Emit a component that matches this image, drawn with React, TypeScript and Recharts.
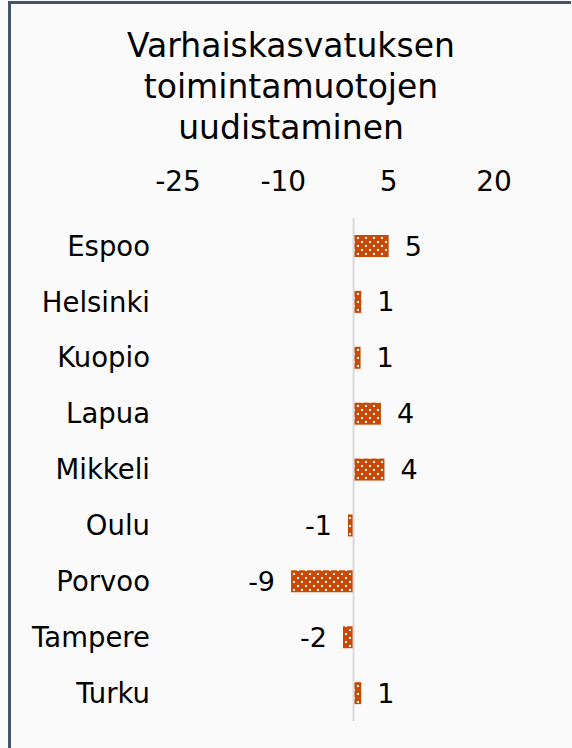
import { BarChart, Bar, XAxis, YAxis, ReferenceLine, LabelList } from "recharts";

const kunnat = [
  "Espoo",
  "Helsinki",
  "Kuopio",
  "Lapua",
  "Mikkeli",
  "Oulu",
  "Porvoo",
  "Tampere",
  "Turku",
];
const muutokset = [5.0, 1.1, 1.0, 3.9, 4.4, -0.8, -8.9, -1.5, 1.1];
const xTicks = [-25, -10, 5, 20];
const otsikko = ["Varhaiskasvatuksen", "toimintamuotojen", "uudistaminen"];

const data = kunnat.map((kunta, i) => ({ kunta, arvo: muutokset[i] }));

const FONT = "'DejaVu Sans', Verdana, sans-serif";
const ORANSSI = "#c94a06";

// Excel pyöristää puolikkaat poispäin nollasta
const pyorista = (v: number) => Math.sign(v) * Math.round(Math.abs(v));

export default function App() {
  return (
    <div
      style={{
        position: "absolute",
        left: 0,
        top: 0,
        width: 572,
        height: 748,
        background: "#fafafa",
        fontFamily: FONT,
        overflow: "hidden",
      }}
    >
      <svg width={0} height={0} style={{ position: "absolute" }}>
        <defs>
          <pattern id="pisteet" width={8} height={8} patternUnits="userSpaceOnUse">
            <rect width={8} height={8} fill={ORANSSI} />
            <rect x={1} y={1} width={2} height={2} fill="#ffffff" />
            <rect x={5} y={5} width={2} height={2} fill="#ffffff" />
          </pattern>
        </defs>
      </svg>

      <div
        style={{
          position: "absolute",
          left: 8,
          top: 1,
          width: 563,
          height: 747,
          borderTop: "3px solid #44546a",
          borderLeft: "3px solid #44546a",
          boxSizing: "border-box",
        }}
      />

      <div
        style={{
          position: "absolute",
          left: 8,
          top: 25,
          width: 566,
          textAlign: "center",
          fontSize: 33,
          lineHeight: "41px",
          color: "#000",
        }}
      >
        {otsikko.map((rivi) => (
          <div key={rivi}>{rivi}</div>
        ))}
      </div>

      <div style={{ position: "absolute", left: 0, top: 0 }}>
        <BarChart
          width={572}
          height={748}
          data={data}
          layout="vertical"
          margin={{ top: 188, right: 78, bottom: 27, left: 18 }}
          barSize={22}
        >
          <XAxis
            type="number"
            orientation="top"
            domain={[-25, 20]}
            ticks={xTicks}
            height={30}
            axisLine={false}
            tickLine={false}
            tickSize={0}
            tickMargin={27}
            tick={{ fill: "#000", fontSize: 28, fontFamily: FONT }}
          />
          <YAxis
            type="category"
            dataKey="kunta"
            width={160}
            axisLine={false}
            tickLine={false}
            tickSize={0}
            tickMargin={28}
            interval={0}
            tick={{ fill: "#000", fontSize: 27.5, fontFamily: FONT }}
          />
          <ReferenceLine x={0} stroke="#d9d9d9" strokeWidth={2} />
          <Bar dataKey="arvo" fill="url(#pisteet)" isAnimationActive={false}>
            <LabelList
              dataKey="arvo"
              position="right"
              offset={16}
              formatter={(v: any) => pyorista(Number(v))}
              style={{ fill: "#000", fontSize: 27, fontFamily: FONT }}
            />
          </Bar>
        </BarChart>
      </div>
    </div>
  );
}
